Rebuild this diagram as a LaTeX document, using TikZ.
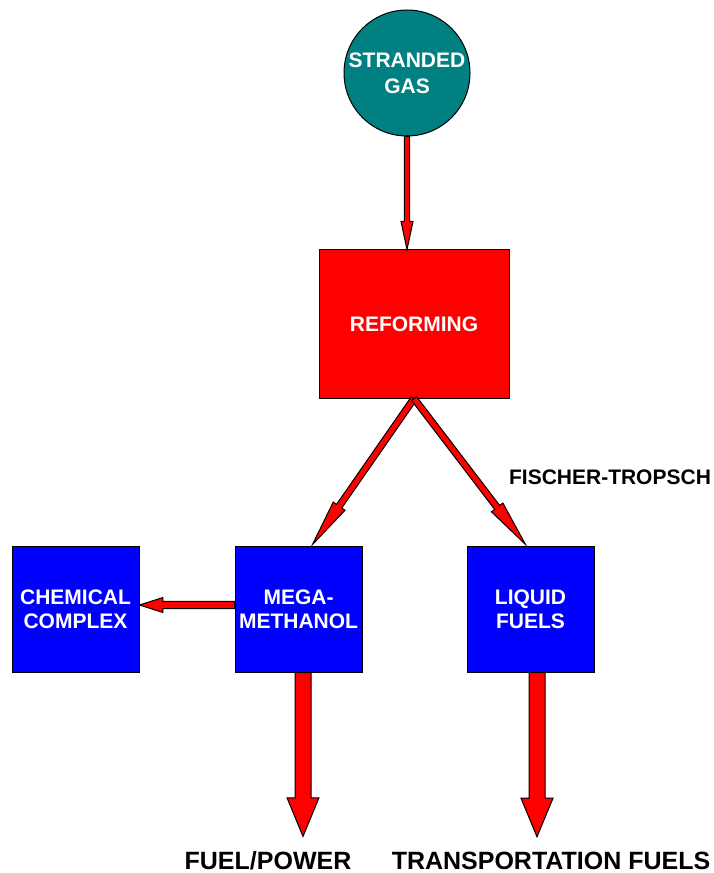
\documentclass[tikz,border=0pt]{standalone}
\usepackage{fontspec}
\setmainfont{Liberation Sans}
\usetikzlibrary{calc}
\definecolor{gasteal}{HTML}{008080}
\definecolor{pured}{HTML}{FF0000}
\definecolor{publ}{HTML}{0000FF}
\tikzset{
  boxtxt/.style={text=white, font=\bfseries\fontsize{15.75}{18}\selectfont, align=center, inner sep=0pt},
  bluebox/.style={boxtxt, draw=black, line width=0.75pt, fill=publ, minimum width=95.25pt, minimum height=94.5pt},
  redbox/.style={boxtxt, draw=black, line width=0.75pt, fill=pured, minimum width=142.5pt, minimum height=111pt},
  gascirc/.style={boxtxt, circle, draw=black, line width=0.75pt, fill=gasteal, minimum size=94.5pt, font=\bfseries\fontsize{15.75}{19.5}\selectfont},
  lbl/.style={font=\bfseries\fontsize{15.75}{18}\selectfont, inner sep=0pt},
  biglbl/.style={font=\bfseries\fontsize{18.75}{22}\selectfont, inner sep=0pt},
  blockarrow/.style={draw=black, line width=0.75pt, fill=pured, line join=miter}
}
\newcommand\blkarrow[5]{%
  \coordinate (bcA) at (#1);
  \coordinate (bcB) at (#2);
  \coordinate (bcC) at ($(bcB)!#5!(bcA)$);
  \draw[blockarrow] ($(bcA)!#3!90:(bcB)$) -- ($(bcC)!#3!90:(bcB)$) -- ($(bcC)!#4!90:(bcB)$) -- (bcB) -- ($(bcC)!#4!-90:(bcB)$) -- ($(bcC)!#3!-90:(bcB)$) -- ($(bcA)!#3!-90:(bcB)$) -- cycle;}
\begin{document}
\begin{tikzpicture}[x=0.75pt,y=-0.75pt]
\useasboundingbox (0,0) rectangle (713,873);
\node[gascirc] (gas) at (407,73) {STRANDED\\GAS};
\node[redbox] (ref) at (414,324) {REFORMING};
\node[bluebox] (chem) at (75.5,609) {CHEMICAL\\COMPLEX};
\node[bluebox] (mega) at (298.5,609) {MEGA-\\METHANOL};
\node[bluebox] (liq) at (530.5,609) {LIQUID\\FUELS};
\node[lbl] (ft) at (610,477) {FISCHER-TROPSCH};
\node[biglbl] (fp) at (268,861) {FUEL/POWER};
\node[biglbl] (tf) at (551,861) {TRANSPORTATION FUELS};
% connectors
\coordinate (gasout) at (gas.south);
\coordinate (refin) at (gas.south |- ref.north);
\blkarrow{gasout}{refin}{1.9pt}{4.5pt}{21pt}
\coordinate (refout) at (ref.south);
\coordinate (megain) at ($(mega.north)+(14,-1)$);
\coordinate (liqin) at ($(liq.north)+(-5,-1)$);
\blkarrow{refout}{megain}{2.4pt}{5.4pt}{35pt}
\blkarrow{refout}{liqin}{2.4pt}{5.4pt}{35pt}
\coordinate (megaw) at ($(mega.west)+(0,-4)$);
\coordinate (heme) at (chem.east |- megaw);
\blkarrow{megaw}{heme}{2.8pt}{5.6pt}{17.5pt}
\coordinate (megas) at ($(mega.south)+(4.5,0)$);
\coordinate (fptip) at ($(megas |- fp.north)+(0,-15)$);
\blkarrow{megas}{fptip}{6pt}{12pt}{29pt}
\coordinate (liqs) at ($(liq.south)+(6.5,0)$);
\coordinate (tftip) at ($(liqs |- tf.north)+(0,-15)$);
\blkarrow{liqs}{tftip}{6pt}{12pt}{29pt}
\end{tikzpicture}
\end{document}
